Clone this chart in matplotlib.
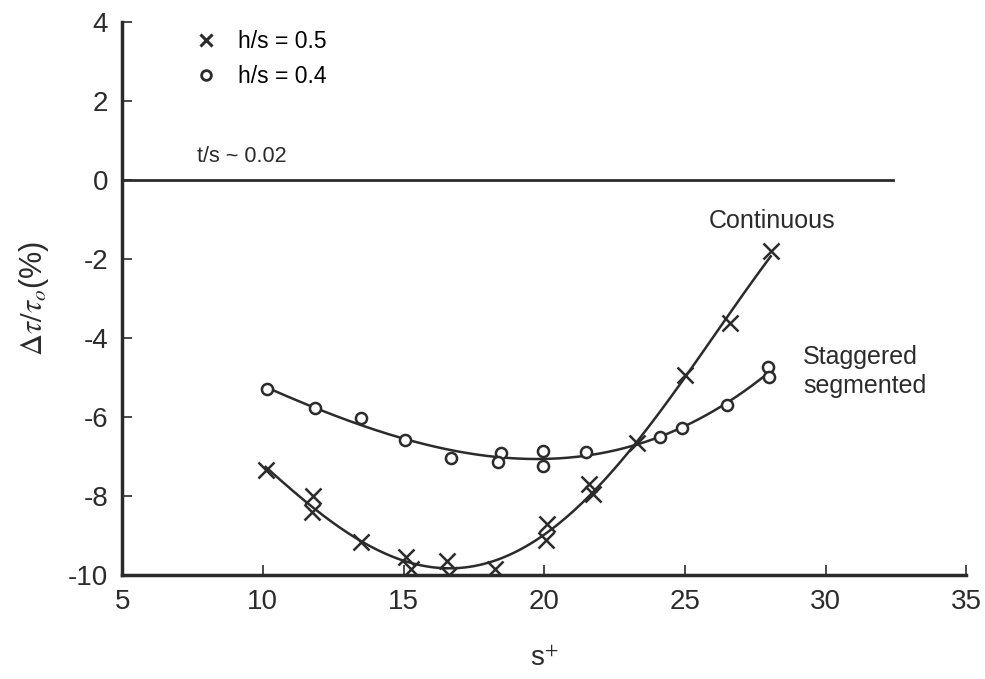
import numpy as np
import matplotlib
matplotlib.use("Agg")
import matplotlib.pyplot as plt
from matplotlib.lines import Line2D

plt.rcParams['font.family'] = ['Liberation Sans', 'DejaVu Sans']
plt.rcParams['mathtext.fontset'] = 'stix'
plt.rcParams['axes.unicode_minus'] = False

# h/s = 0.5 (continuous riblets)
s_cont = [10.1, 11.8, 11.75, 13.5, 15.1, 15.25, 16.55, 16.6, 18.25, 20.1, 20.05,
          21.6, 21.75, 23.3, 25.0, 26.6, 28.05]
d_cont = [-7.35, -8.0, -8.4, -9.15, -9.55, -9.85, -9.65, -10.0, -9.85, -8.7, -9.12,
          -7.7, -7.95, -6.65, -4.95, -3.63, -1.8]

# h/s = 0.4 (staggered segmented)
s_stag = [10.15, 11.85, 13.5, 15.05, 16.7, 18.45, 18.35, 19.95, 19.95, 21.5,
          24.1, 24.9, 26.5, 27.95, 28.0]
d_stag = [-5.3, -5.77, -6.03, -6.57, -7.04, -6.9, -7.13, -6.87, -7.24, -6.88,
          -6.5, -6.27, -5.69, -4.74, -4.99]

xticks = [5, 10, 15, 20, 25, 30, 35]
yticks = [-10, -8, -6, -4, -2, 0, 2, 4]

ink = '#2b2b2b'

fig = plt.figure(figsize=(9.85, 6.79), dpi=100)
ax = fig.add_axes([0.124, 0.153, 0.857, 0.815])

# trend curves through each series
for s, d, deg in [(s_cont, d_cont, 4), (s_stag, d_stag, 3)]:
    c = np.polyfit(s, d, deg)
    xs = np.linspace(min(s), max(s), 200)
    ax.plot(xs, np.polyval(c, xs), color=ink, lw=1.8, zorder=2)

ax.plot(s_cont, d_cont, ls='none', marker='x', ms=11, mew=1.8, color=ink, zorder=3)
ax.plot(s_stag, d_stag, ls='none', marker='o', ms=8, mew=1.8, mfc='white',
        mec=ink, zorder=3)

ax.axhline(0, xmin=0, xmax=(32.4 - 5) / 30, color=ink, lw=2)

ax.set_xlim(5, 35)
ax.set_ylim(-10, 4)
ax.set_xticks(xticks)
ax.set_yticks(yticks)
ax.tick_params(direction='in', length=7, width=1.2, labelsize=20, colors=ink, pad=10)
for side in ['top', 'right']:
    ax.spines[side].set_visible(False)
for side in ['left', 'bottom']:
    ax.spines[side].set_linewidth(2.5)
    ax.spines[side].set_color(ink)

ax.set_xlabel('s$^{+}$', fontsize=20, color=ink, labelpad=22)
ax.set_ylabel(r'$\Delta\tau/\tau_o$(%)', fontsize=22, color=ink, labelpad=12)

ax.text(7.65, 0.6, 't/s ~ 0.02', fontsize=15.5, color=ink, va='center')
ax.text(28.1, -1.05, 'Continuous', fontsize=18, color=ink, ha='center', va='center')
ax.text(29.2, -4.85, 'Staggered\nsegmented', fontsize=18, color=ink, ha='left',
        va='center', linespacing=1.3)

handles = [Line2D([], [], ls='none', marker='x', ms=9, mew=2.2, color=ink),
           Line2D([], [], ls='none', marker='o', ms=7, mew=2, mfc='white', mec=ink)]
ax.legend(handles, ['h/s = 0.5', 'h/s = 0.4'], loc='upper left',
          bbox_to_anchor=(0.064, 1.023), frameon=False, fontsize=16.5,
          handlelength=0.8, handletextpad=1.0, labelspacing=0.55)

fig.savefig('out.png', dpi=100)
